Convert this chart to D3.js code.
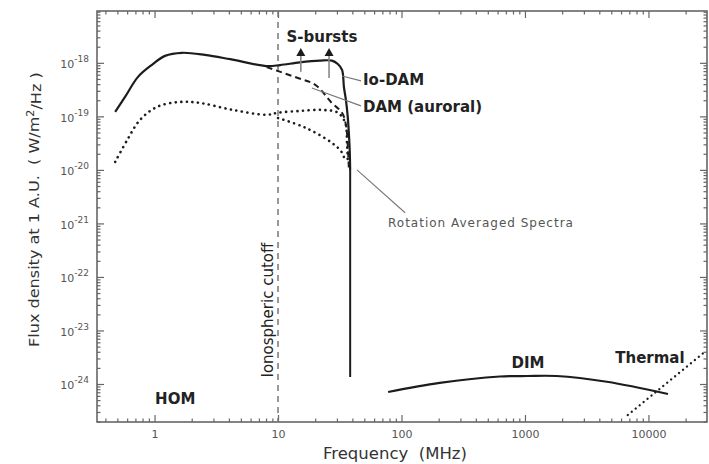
<!DOCTYPE html>
<html><head><meta charset="utf-8">
<script src="https://cdn.jsdelivr.net/npm/d3@7"></script>
<style>body{margin:0;background:#fff}svg{display:block}</style>
</head><body><svg id="c" width="709" height="464"></svg>
<script>
// ---- data ----
const xMajorTicks = [1, 10, 100, 1000, 10000];
const xTickLabels = ["1", "10", "100", "1000", "10000"];
const yMajorTicks = [1e-18, 1e-19, 1e-20, 1e-21, 1e-22, 1e-23, 1e-24];
const yTickLabels = ["-18", "-19", "-20", "-21", "-22", "-23", "-24"];

// HOM + Io-DAM peak envelope (solid)
const peakFreq = [0.48, 0.577, 0.735, 0.954, 1.216, 1.67, 2.56, 4.1, 8.1, 10.4, 15, 21.8, 27.3, 30.5, 33, 34.2, 35.5, 36.7, 38.0, 38.4];
const peakFlux = [1.21e-19, 2.31e-19, 5.47e-19, 9.2e-19, 1.35e-18, 1.54e-18, 1.41e-18, 1.17e-18, 8.7e-19, 9.1e-19, 1.02e-18, 1.10e-18, 1.10e-18, 9.5e-19, 7.4e-19, 3.5e-19, 2.0e-19, 9.8e-20, 2.6e-20, 1.0e-20];
// Io-DAM cutoff (solid vertical)
const cutoffFreq = [38.4, 38.4];
const cutoffFlux = [1.0e-20, 1.35e-24];
// DAM auroral peak (dashed)
const auroralFreq = [8.1, 14.5, 20, 27.3, 33, 35.5, 36.7, 37.5];
const auroralFlux = [8.3e-19, 5.2e-19, 3.9e-19, 1.78e-19, 1.17e-19, 6.9e-20, 2.95e-20, 1.0e-20];
// Rotation averaged HOM + Io-DAM (dotted)
const avgFreq = [0.48, 0.60, 0.76, 1.05, 1.61, 2.34, 4.3, 8.1, 10, 15, 22.7, 30.5, 35, 36.2, 36.7];
const avgFlux = [1.41e-20, 3.6e-20, 8.5e-20, 1.51e-19, 1.86e-19, 1.78e-19, 1.32e-19, 1.07e-19, 1.17e-19, 1.26e-19, 1.32e-19, 1.17e-19, 7.6e-20, 3.2e-20, 1.55e-20];
// Rotation averaged DAM auroral (dotted)
const avgAuroralFreq = [10, 16.5, 27.3, 33, 35];
const avgAuroralFlux = [9.3e-20, 6.2e-20, 3.2e-20, 2.1e-20, 1.4e-20];
// DIM (solid)
const dimFreq = [78, 204, 627, 1040, 1800, 4600, 14400];
const dimFlux = [7.1e-25, 1.05e-24, 1.38e-24, 1.41e-24, 1.41e-24, 1.10e-24, 6.5e-25];
// Thermal (dotted)
const thermalFreq = [6800, 28600];
const thermalFlux = [2.63e-25, 3.98e-24];
// S-burst arrows
const sburstFreq = [15.3, 25.9];
const sburstLow = [6.8e-19, 5.2e-19];
const sburstHigh = 1.9e-18;
const cutoffFrequency = 10;

// ---- layout ----
const svg = d3.select("#c");
const L = 97, R = 707, T = 11, B = 422;
const x = d3.scaleLog().domain([0.342, 29800]).range([L, R]);
const y = d3.scaleLog().domain([1.95e-25, 9.3e-18]).range([B, T]);
const font = "'DejaVu Sans', sans-serif";
const axisCol = "#666";

const isMajor = v => Math.abs(Math.log10(v) - Math.round(Math.log10(v))) < 1e-9;
function allTicks(dom) {
  const out = [];
  const e0 = Math.floor(Math.log10(dom[0])), e1 = Math.ceil(Math.log10(dom[1]));
  for (let e = e0; e <= e1; e++) for (let m = 1; m <= 9; m++) {
    const v = m * Math.pow(10, e);
    if (v >= dom[0] && v <= dom[1]) out.push(v);
  }
  return out;
}
const xt = allTicks(x.domain()), yt = allTicks(y.domain());

function styleAxis(g, horiz, sign) {
  g.select(".domain").remove();
  g.selectAll(".tick line").attr("stroke", axisCol).attr("stroke-width", 1.2)
    .attr(horiz ? "y2" : "x2", d => sign * (isMajor(d) ? 7 : 3.5));
  g.selectAll("text").attr("fill", "#555").attr("font-family", font);
}
const gb = svg.append("g").attr("transform", `translate(0,${B})`)
  .call(d3.axisBottom(x).tickValues(xt).tickSizeInner(-7).tickSizeOuter(0).tickPadding(8)
    .tickFormat(d => { const i = xMajorTicks.findIndex(m => Math.abs(m - d) < 1e-9 * m); return i >= 0 ? xTickLabels[i] : ""; }));
styleAxis(gb, true, -1);
gb.selectAll("text").attr("font-size", 11);
const gt = svg.append("g").attr("transform", `translate(0,${T})`)
  .call(d3.axisTop(x).tickValues(xt).tickSizeInner(-7).tickSizeOuter(0).tickFormat(""));
styleAxis(gt, true, 1);
const gl = svg.append("g").attr("transform", `translate(${L},0)`)
  .call(d3.axisLeft(y).tickValues(yt).tickSizeInner(-7).tickSizeOuter(0).tickPadding(8).tickFormat(""));
styleAxis(gl, false, 1);
gl.selectAll(".tick").filter(d => isMajor(d)).each(function(d) {
  const i = yMajorTicks.findIndex(m => Math.abs(m - d) < 1e-6 * m);
  if (i < 0) return;
  const t = d3.select(this).select("text").attr("font-size", 11).attr("dy", "0.45em");
  t.append("tspan").text("10");
  t.append("tspan").attr("font-size", 9).attr("dy", "-0.7em").text(yTickLabels[i]);
});
const gr = svg.append("g").attr("transform", `translate(${R},0)`)
  .call(d3.axisRight(y).tickValues(yt).tickSizeInner(-7).tickSizeOuter(0).tickFormat(""));
styleAxis(gr, false, -1);

svg.append("rect").attr("x", L).attr("y", T).attr("width", R - L).attr("height", B - T)
  .attr("fill", "none").attr("stroke", axisCol).attr("stroke-width", 1.6);

// ionospheric cutoff
svg.append("line").attr("x1", x(cutoffFrequency)).attr("x2", x(cutoffFrequency))
  .attr("y1", T).attr("y2", B).attr("stroke", "#777").attr("stroke-width", 1.5)
  .attr("stroke-dasharray", "6,5");

// curves
const zip = (a, b) => a.map((v, i) => [v, b[i]]);
const curve = d3.line().x(d => x(d[0])).y(d => y(d[1])).curve(d3.curveCatmullRom.alpha(0.5));
const lin = d3.line().x(d => x(d[0])).y(d => y(d[1]));
const ink = "#1c1c1c";
function draw(path, dash, w, cap) {
  svg.append("path").attr("d", path).attr("fill", "none").attr("stroke", ink)
    .attr("stroke-width", w).attr("stroke-linecap", cap || "butt").attr("stroke-linejoin", "round")
    .attr("stroke-dasharray", dash || null);
}
draw(curve(zip(peakFreq, peakFlux)), null, 2.2);
draw(lin(zip(cutoffFreq, cutoffFlux)), null, 2);
draw(curve(zip(auroralFreq, auroralFlux)), "6,4", 2);
draw(curve(zip(avgFreq, avgFlux)), "0.1,5.5", 2.6, "round");
draw(curve(zip(avgAuroralFreq, avgAuroralFlux)), "0.1,5.5", 2.6, "round");
draw(curve(zip(dimFreq, dimFlux)), null, 2.2);
draw(lin(zip(thermalFreq, thermalFlux)), "0.1,5", 2.3, "round");

// S-burst arrows
sburstFreq.forEach((f, i) => {
  const px = x(f), top = y(sburstHigh);
  svg.append("line").attr("x1", px).attr("x2", px).attr("y1", y(sburstLow[i])).attr("y2", top + 6)
    .attr("stroke", "#888").attr("stroke-width", 1.6);
  svg.append("path").attr("d", `M${px},${top}L${px - 4.5},${top + 8}L${px + 4.5},${top + 8}Z`).attr("fill", ink);
});

// pointer lines
const pointers = [
  [[33, 5.7e-19], [47, 4.6e-19]],
  [[18.8, 3.4e-19], [47, 1.57e-19]],
  [[43.6, 1.0e-20], [107, 1.58e-21]]
];
pointers.forEach(p => svg.append("path").attr("d", lin(p)).attr("stroke", "#777").attr("stroke-width", 1.1).attr("fill", "none"));

// labels
const labels = [
  {t: "S-bursts", f: 22.7, v: 2.47e-18, a: "middle", b: true},
  {t: "Io-DAM", f: 48.8, v: 3.9e-19, a: "start", b: true},
  {t: "DAM (auroral)", f: 48.8, v: 1.21e-19, a: "start", b: true},
  {t: "HOM", f: 1.47, v: 4.14e-25, a: "middle", b: true},
  {t: "DIM", f: 1057, v: 1.95e-24, a: "middle", b: true},
  {t: "Thermal", f: 10280, v: 2.52e-24, a: "middle", b: true}
];
labels.forEach(l => svg.append("text").attr("x", x(l.f)).attr("y", y(l.v)).attr("text-anchor", l.a)
  .attr("font-family", font).attr("font-size", 15).attr("font-weight", l.b ? "bold" : "normal")
  .attr("fill", "#222").text(l.t));
svg.append("text").attr("x", x(77.8)).attr("y", y(8.6e-22)).attr("font-family", font)
  .attr("font-size", 12).attr("letter-spacing", 1).attr("fill", "#555").text("Rotation Averaged Spectra");
svg.append("text").attr("transform", `translate(${x(8.3)},${y(2.4e-23)}) rotate(-90)`)
  .attr("text-anchor", "middle").attr("dominant-baseline", "central").attr("font-family", font)
  .attr("font-size", 15).attr("fill", "#222").text("Ionospheric cutoff");

// axis titles
svg.append("text").attr("x", 323).attr("y", 459).attr("text-anchor", "start")
  .attr("font-family", font).attr("font-size", 16.5).attr("fill", "#333")
  .attr("xml:space", "preserve").text("Frequency  (MHz)");
const yl = svg.append("text").attr("transform", `translate(39,347) rotate(-90)`)
  .attr("text-anchor", "start").attr("font-family", font)
  .attr("font-size", 14.5).attr("fill", "#333").attr("xml:space", "preserve");
yl.append("tspan").text("Flux density at 1 A.U.  ( W/m");
yl.append("tspan").attr("font-size", 10).attr("dy", "-0.5em").text("2");
yl.append("tspan").attr("dy", "0.5em").text("/Hz )");
yl.attr("textLength", null);
// fit the title to its span on the page
const ylLen = yl.node().getComputedTextLength();
yl.attr("transform", `translate(39,347) rotate(-90) scale(${275 / ylLen},1)`);
</script></body></html>
